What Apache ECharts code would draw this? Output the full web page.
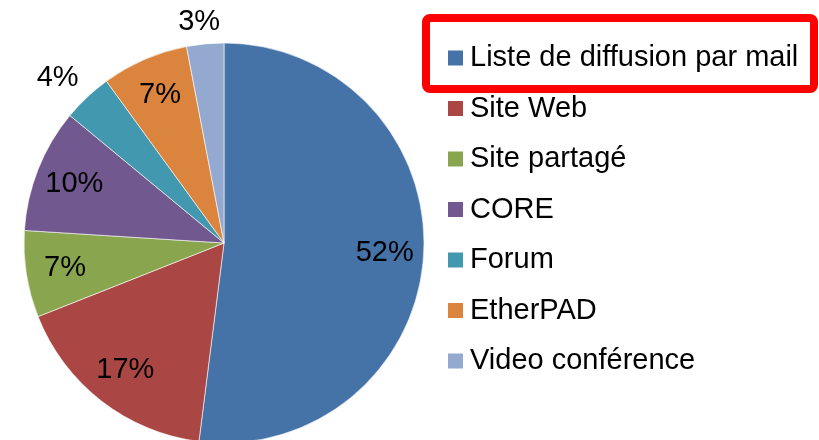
<!DOCTYPE html>
<html>
<head>
<meta charset="utf-8">
<script src="https://cdn.jsdelivr.net/npm/echarts@6/dist/echarts.min.js"></script>
<style>
html,body{margin:0;padding:0;background:#fff;}
#chart{width:819px;height:440px;}
</style>
</head>
<body>
<div id="chart"></div>
<script>
// catégories et valeurs (%)
var categories = ['Liste de diffusion par mail', 'Site Web', 'Site partagé', 'CORE', 'Forum', 'EtherPAD', 'Video conférence'];
var values = [52, 17, 7, 10, 4, 7, 3];
var colors = ['#4572A7', '#AA4643', '#89A54E', '#71588F', '#4198AF', '#DB843D', '#93A9CF'];
var outsideLabels = ['Forum', 'Video conférence']; // petites parts, étiquette à l'extérieur

var font = "'Liberation Sans', Arial, sans-serif";

var pieData = [];
var labelData = [];
for (var i = 0; i < categories.length; i++) {
	pieData.push({ name: categories[i], value: values[i], itemStyle: { color: colors[i] } });
	var outside = outsideLabels.indexOf(categories[i]) >= 0;
	var item = { name: categories[i], value: values[i] };
	if (outside) {
		item.label = { position: 'outside', distanceToLabelLine: categories[i] == 'Forum' ? -10 : -17 };
		item.labelLine = { show: false, length: categories[i] == 'Forum' ? 27 : 22, length2: 0 };
	}
	labelData.push(item);
}

var myChart = echarts.init(document.getElementById('chart'));
var option = {
	animation: false,
	color: colors,
	legend: {
		orient: 'vertical',
		left: 443,
		top: 38,
		icon: 'rect',
		itemWidth: 15,
		itemHeight: 15,
		itemGap: 20.5,
		selectedMode: false,
		data: categories,
		itemStyle: { borderWidth: 0 },
		textStyle: { fontFamily: font, fontSize: 29, color: '#000', lineHeight: 30, padding: [0, 0, 0, 2] }
	},
	graphic: [{
		type: 'rect',
		shape: { x: 426, y: 18, width: 388, height: 71, r: 4 },
		style: { fill: 'none', stroke: '#ff0000', lineWidth: 8 },
		z: 10
	}],
	series: [
		{
			type: 'pie',
			center: [224, 243],
			radius: [0, 200],
			startAngle: 90,
			clockwise: true,
			avoidLabelOverlap: false,
			label: { show: false },
			labelLine: { show: false },
			itemStyle: { borderColor: '#ffffff', borderWidth: 0.6 },
			emphasis: { disabled: true },
			data: pieData
		},
		{
			// série transparente pour placer les pourcentages
			type: 'pie',
			center: [224, 243],
			radius: [116, 200],
			startAngle: 90,
			clockwise: true,
			silent: true,
			avoidLabelOverlap: false,
			itemStyle: { color: 'rgba(0,0,0,0)' },
			emphasis: { disabled: true },
			label: {
				show: true,
				position: 'inside',
				formatter: '{c}%',
				fontFamily: font,
				fontSize: 29,
				color: '#000'
			},
			labelLine: { show: false },
			data: labelData
		}
	]
};
myChart.setOption(option);
</script>
</body>
</html>
